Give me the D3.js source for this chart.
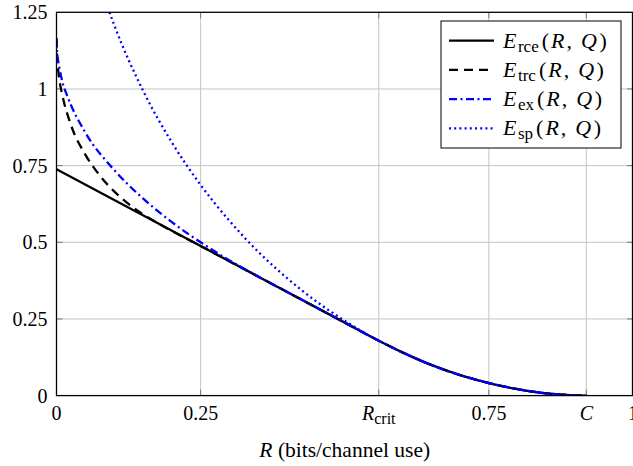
<!DOCTYPE html>
<html>
<head>
<meta charset="utf-8">
<script src="https://cdn.jsdelivr.net/npm/d3@7"></script>
<style>
  body { margin: 0; background: #fff; }
  svg { display: block; }
  svg text { font-family: "Liberation Serif", Tinos, "Times New Roman", Times, "DejaVu Serif", serif; }
</style>
</head>
<body>
<svg id="chart" width="633" height="466"></svg>
<script>
var width = 633, height = 466;
var marginLeft = 56.5, marginTop = 12.3, marginRight = 0, marginBottom = 70.4;

// values
var rceR = [0, 0.25, 0.5, 0.559, 0.6, 0.65, 0.7, 0.75, 0.8, 0.85, 0.9, 0.919];
var rceE = [0.738, 0.488, 0.238, 0.179, 0.141, 0.100, 0.067, 0.041, 0.021, 0.007, 0.001, 0];

var trcR = [0, 0.001, 0.0025, 0.005, 0.01, 0.025, 0.05, 0.075, 0.1, 0.125, 0.15, 0.176, 0.25, 0.4, 0.5, 0.559, 0.6, 0.65, 0.7, 0.75, 0.8, 0.85, 0.9, 0.919];
var trcE = [1.165, 1.104, 1.070, 1.030, 0.981, 0.883, 0.786, 0.718, 0.666, 0.625, 0.591, 0.562, 0.488, 0.338, 0.238, 0.179, 0.141, 0.100, 0.067, 0.041, 0.021, 0.007, 0.001, 0];

var exR = [0, 0.001, 0.0025, 0.005, 0.01, 0.02, 0.05, 0.1, 0.15, 0.2, 0.25, 0.3, 0.352, 0.4, 0.5, 0.559, 0.6, 0.65, 0.7, 0.75, 0.8, 0.85, 0.9, 0.919];
var exE = [1.165, 1.121, 1.096, 1.068, 1.025, 0.971, 0.858, 0.736, 0.643, 0.566, 0.500, 0.441, 0.386, 0.338, 0.238, 0.179, 0.141, 0.100, 0.067, 0.041, 0.021, 0.007, 0.001, 0];

var spR = [0.08, 0.09, 0.1, 0.15, 0.2, 0.25, 0.3, 0.35, 0.4, 0.45, 0.5, 0.559, 0.6, 0.65, 0.7, 0.75, 0.8, 0.85, 0.9, 0.919];
var spE = [1.315, 1.260, 1.209, 0.995, 0.826, 0.687, 0.570, 0.469, 0.383, 0.308, 0.244, 0.179, 0.141, 0.100, 0.067, 0.041, 0.021, 0.007, 0.001, 0];

var xTicks = [0, 0.25, 0.559, 0.75, 0.919, 1];
var xTickLabels = ["0", "0.25", "Rcrit", "0.75", "C", "1"];
var yTicks = [0, 0.25, 0.5, 0.75, 1, 1.25];
var yTickLabels = ["0", "0.25", "0.5", "0.75", "1", "1.25"];

var legendNames = ["rce", "trc", "ex", "sp"];

var svg = d3.select("#chart");

var x = d3.scaleLinear().domain([0, 1]).range([marginLeft, width - marginRight]);
var y = d3.scaleLinear().domain([0, 1.25]).range([height - marginBottom, marginTop]);

var styles = [
  {color: "#000", dash: null},
  {color: "#000", dash: "9,6"},
  {color: "#0000ff", dash: "8,3.5,2,3.5"},
  {color: "#0000ff", dash: "2,3.2"}
];

svg.append("defs").append("clipPath").attr("id", "plotclip")
  .append("rect")
  .attr("x", x(0)).attr("y", y(1.25))
  .attr("width", x(1) - x(0)).attr("height", y(0) - y(1.25));

// grid
svg.append("g").selectAll("line")
  .data(xTicks.slice(1, -1))
  .enter().append("line")
  .attr("x1", function(d) { return x(d); }).attr("x2", function(d) { return x(d); })
  .attr("y1", y(0)).attr("y2", y(1.25))
  .style("stroke", "#c4c4c4").style("stroke-width", 1);

svg.append("g").selectAll("line")
  .data(yTicks.slice(1, -1))
  .enter().append("line")
  .attr("y1", function(d) { return y(d); }).attr("y2", function(d) { return y(d); })
  .attr("x1", x(0)).attr("x2", x(1))
  .style("stroke", "#c4c4c4").style("stroke-width", 1);

// ticks inside, all four sides
var tk = svg.append("g").style("stroke", "#777").style("stroke-width", 1);
xTicks.slice(1, -1).forEach(function(d) {
  tk.append("line").attr("x1", x(d)).attr("x2", x(d)).attr("y1", y(0)).attr("y2", y(0) - 6);
  tk.append("line").attr("x1", x(d)).attr("x2", x(d)).attr("y1", y(1.25)).attr("y2", y(1.25) + 6);
});
yTicks.slice(1, -1).forEach(function(d) {
  tk.append("line").attr("y1", y(d)).attr("y2", y(d)).attr("x1", x(0)).attr("x2", x(0) + 6);
  tk.append("line").attr("y1", y(d)).attr("y2", y(d)).attr("x1", x(1)).attr("x2", x(1) - 6);
});

// curves
var series = [[rceR, rceE], [trcR, trcE], [exR, exE], [spR, spE]];
var line = d3.line()
  .x(function(d) { return x(d[0]); })
  .y(function(d) { return y(d[1]); })
  .curve(d3.curveMonotoneX);

var plot = svg.append("g").attr("clip-path", "url(#plotclip)");
series.forEach(function(s, i) {
  var pts = s[0].map(function(r, j) { return [r, s[1][j]]; });
  plot.append("path")
    .attr("d", line(pts))
    .style("fill", "none")
    .style("stroke", styles[i].color)
    .style("stroke-width", 2.3)
    .style("stroke-dasharray", styles[i].dash);
});

// axis box
svg.append("rect")
  .attr("x", x(0)).attr("y", y(1.25))
  .attr("width", x(1) - x(0) - 0.5).attr("height", y(0) - y(1.25))
  .style("fill", "none").style("stroke", "#000").style("stroke-width", 1.3);

// tick labels
var xl = svg.append("g").selectAll("text")
  .data(xTicks)
  .enter().append("text")
  .attr("x", function(d) { return x(d); })
  .attr("y", y(0) + 24)
  .attr("text-anchor", "middle")
  .style("font-size", "20px");
xl.each(function(d, i) {
  var t = d3.select(this);
  var lab = xTickLabels[i];
  if (lab === "Rcrit") {
    t.append("tspan").style("font-style", "italic").text("R");
    t.append("tspan").attr("dy", 4).style("font-size", "16px").text("crit");
  } else if (lab === "C") {
    t.style("font-style", "italic").text("C");
  } else {
    t.text(lab);
  }
});

svg.append("g").selectAll("text")
  .data(yTicks)
  .enter().append("text")
  .attr("x", x(0) - 9)
  .attr("y", function(d) { return y(d) + 7; })
  .attr("text-anchor", "end")
  .style("font-size", "20px")
  .text(function(d, i) { return yTickLabels[i]; });

// axis title
var xt = svg.append("text")
  .attr("x", (x(0) + x(1)) / 2)
  .attr("y", 457)
  .attr("text-anchor", "middle")
  .style("font-size", "21.5px");
xt.append("tspan").style("font-style", "italic").text("R");
xt.append("tspan").text(" (bits/channel use)");

// legend
var lg = svg.append("g").attr("transform", "translate(441,21)");
lg.append("rect")
  .attr("width", 180).attr("height", 127)
  .style("fill", "#fff").style("stroke", "#000").style("stroke-width", 1);

legendNames.forEach(function(name, i) {
  var yy = 19.7 + i * 29.2;
  lg.append("line")
    .attr("x1", 8).attr("x2", 53)
    .attr("y1", yy).attr("y2", yy)
    .style("stroke", styles[i].color)
    .style("stroke-width", 2.3)
    .style("stroke-dasharray", styles[i].dash);
  var t = lg.append("text")
    .attr("x", 62).attr("y", yy + 7)
    .style("font-size", "22px");
  t.append("tspan").style("font-style", "italic").text("E");
  t.append("tspan").attr("dy", 4).attr("dx", 1.5).style("font-size", "17px").text(name);
  t.append("tspan").attr("dy", -4).attr("dx", 3).text("(");
  t.append("tspan").style("font-style", "italic").attr("dx", 2).text("R");
  t.append("tspan").attr("dx", 2).text(",");
  t.append("tspan").style("font-style", "italic").attr("dx", 9).text("Q");
  t.append("tspan").attr("dx", 2.5).text(")");
});
</script>
</body>
</html>
